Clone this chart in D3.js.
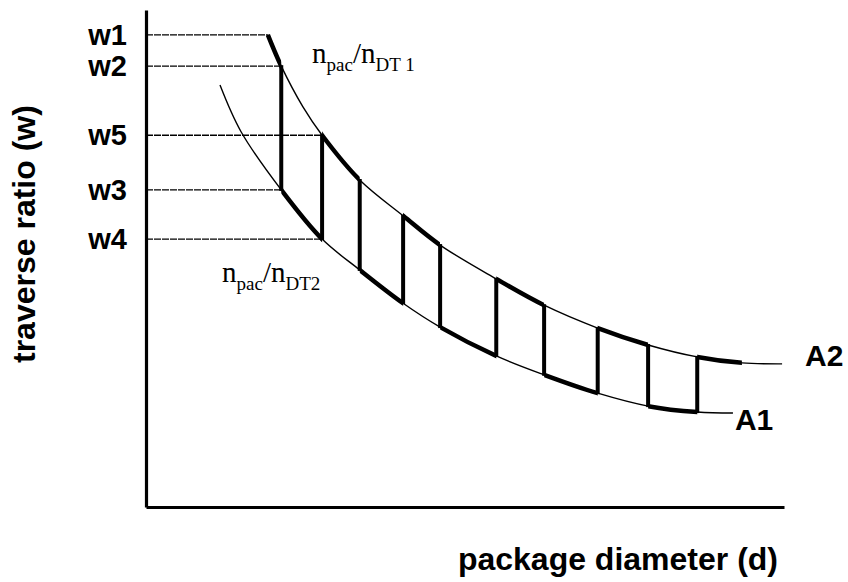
<!DOCTYPE html>
<html>
<head>
<meta charset="utf-8">
<script src="https://cdn.jsdelivr.net/npm/d3@7"></script>
<style>
  body { margin: 0; background: #fff; }
  .lbl { font-family: "Liberation Sans", Arial, sans-serif; font-weight: bold; fill: #000; }
  .npac { font-family: "Liberation Serif", "Times New Roman", serif; fill: #000; }
</style>
</head>
<body>
<svg id="chart" width="848" height="582"></svg>
<script>
// upper curve A2 (n_pac/n_DT1)
const upperD = [19.1, 21.2, 24.6, 27.6, 33.5, 40.3, 46.1, 54.9, 62.4, 70.8, 78.7, 86.4, 93.4, 99.7];
const upperW = [95.0, 88.7, 80.5, 74.8, 65.8, 58.6, 52.7, 45.9, 40.6, 36.0, 32.6, 30.2, 29.0, 28.8];

// lower curve A1 (n_pac/n_DT2)
const lowerD = [11.6, 14.9, 21.2, 27.6, 33.5, 40.3, 46.1, 54.9, 62.4, 70.8, 78.7, 86.4, 92.0];
const lowerW = [84.9, 75.5, 63.8, 53.9, 47.7, 41.0, 36.2, 30.4, 26.6, 22.9, 20.3, 19.1, 18.9];

// diameters where the traverse ratio jumps between the curves
const stepD = [21.2, 27.6, 33.5, 40.3, 46.1, 54.9, 62.4, 70.8, 78.7, 86.4];
const upperThickEnd = 93.4;

// y axis labels
const wLabels = ["w1", "w2", "w5", "w3", "w4"];
const wLevels = [95.0, 88.7, 74.8, 63.8, 53.9];
const wGuideEnd = [19.1, 21.2, 27.6, 21.2, 27.6];

const size = { width: 848, height: 582, left: 146, right: 784, top: 10, bottom: 507 };
const svg = d3.select('#chart');

const x = d3.scaleLinear().domain([0, 100]).range([size.left, size.right]);
const y = d3.scaleLinear().domain([0, 100]).range([size.bottom, size.top]);

const upper = upperD.map((d, i) => ({ d: d, w: upperW[i] }));
const lower = lowerD.map((d, i) => ({ d: d, w: lowerW[i] }));

const line = d3.line()
    .x(p => x(p.d))
    .y(p => y(p.w))
    .curve(d3.curveCatmullRom.alpha(0.5));

const wAt = (ds, ws, d) => ws[ds.findIndex(v => Math.abs(v - d) < 1e-6)];

// guide lines from the axis to the curves
svg.append('g').selectAll('line')
    .data(wLevels)
    .join('line')
    .attr('x1', x(0))
    .attr('x2', (w, i) => x(wGuideEnd[i]))
    .attr('y1', w => y(w))
    .attr('y2', w => y(w))
    .attr('stroke', '#000')
    .attr('stroke-width', 1.4)
    .attr('stroke-dasharray', '7,1');

// thin curves
[upper, lower].forEach(pts => {
    svg.append('path')
        .datum(pts)
        .attr('fill', 'none')
        .attr('stroke', '#000')
        .attr('stroke-width', 1.4)
        .attr('d', line);
});

// thick zigzag: pieces of the curves between steps
const upperIntervals = [[upperD[0], stepD[0]]];
for (let i = 1; i < stepD.length; i += 2) {
    upperIntervals.push([stepD[i], i + 1 < stepD.length ? stepD[i + 1] : upperThickEnd]);
}
const lowerIntervals = [];
for (let i = 0; i + 1 < stepD.length; i += 2) {
    lowerIntervals.push([stepD[i], stepD[i + 1]]);
}

const defs = svg.append('defs');
let clipId = 0;
function thickPiece(pts, a, b) {
    const id = 'clip' + (clipId++);
    const pad = a === pts[0].d ? 3 : 0;
    defs.append('clipPath').attr('id', id)
        .append('rect')
        .attr('x', x(a) - pad)
        .attr('y', 0)
        .attr('width', x(b) - x(a) + pad)
        .attr('height', size.height);
    svg.append('path')
        .datum(pts)
        .attr('fill', 'none')
        .attr('stroke', '#000')
        .attr('stroke-width', 4.5)
        .attr('clip-path', `url(#${id})`)
        .attr('d', line);
}
upperIntervals.forEach(([a, b]) => thickPiece(upper, a, b));
lowerIntervals.forEach(([a, b]) => thickPiece(lower, a, b));

// vertical steps
svg.append('g').selectAll('line')
    .data(stepD)
    .join('line')
    .attr('x1', d => x(d))
    .attr('x2', d => x(d))
    .attr('y1', d => y(wAt(upperD, upperW, d)) - 1)
    .attr('y2', d => y(wAt(lowerD, lowerW, d)) + 1)
    .attr('stroke', '#000')
    .attr('stroke-width', 4);

// axes
const yAxis = svg.append('g')
    .attr('transform', `translate(${x(0)},0)`)
    .call(d3.axisLeft(y).tickValues(wLevels).tickFormat((d, i) => wLabels[i]).tickSize(0).tickPadding(19));
const xAxis = svg.append('g')
    .attr('transform', `translate(0,${y(0)})`)
    .call(d3.axisBottom(x).tickValues([]).tickSize(0));
[yAxis, xAxis].forEach(g => g.select('.domain').attr('stroke', '#000').attr('stroke-width', 3.2));
yAxis.selectAll('text')
    .attr('class', 'lbl')
    .attr('font-size', 29)
    .attr('fill', '#000');

// axis titles
svg.append('text')
    .attr('class', 'lbl')
    .attr('font-size', 32)
    .attr('text-anchor', 'end')
    .attr('x', 778)
    .attr('y', 570)
    .text('package diameter (d)');

svg.append('text')
    .attr('class', 'lbl')
    .attr('font-size', 32)
    .attr('transform', 'translate(35,363) rotate(-90)')
    .attr('text-anchor', 'start')
    .text('traverse ratio (w)');

// curve labels
const lastU = upper[upper.length - 1];
const lastL = lower[lower.length - 1];
svg.append('text')
    .attr('class', 'lbl')
    .attr('font-size', 30)
    .attr('x', x(lastU.d) + 23)
    .attr('y', y(lastU.w) + 2)
    .text('A2');
svg.append('text')
    .attr('class', 'lbl')
    .attr('font-size', 30)
    .attr('x', x(lastL.d) + 2)
    .attr('y', y(lastL.w) + 17)
    .text('A1');

function npac(px, py, sub2) {
    const t = svg.append('text').attr('class', 'npac').attr('x', px).attr('y', py).attr('font-size', 29);
    t.append('tspan').text('n');
    t.append('tspan').attr('font-size', 19).attr('dy', 8).text('pac');
    t.append('tspan').attr('dy', -8).text('/n');
    t.append('tspan').attr('font-size', 19).attr('dy', 8).text(sub2);
}
npac(312, 63, 'DT 1');
npac(222, 282, 'DT2');
</script>
</body>
</html>
